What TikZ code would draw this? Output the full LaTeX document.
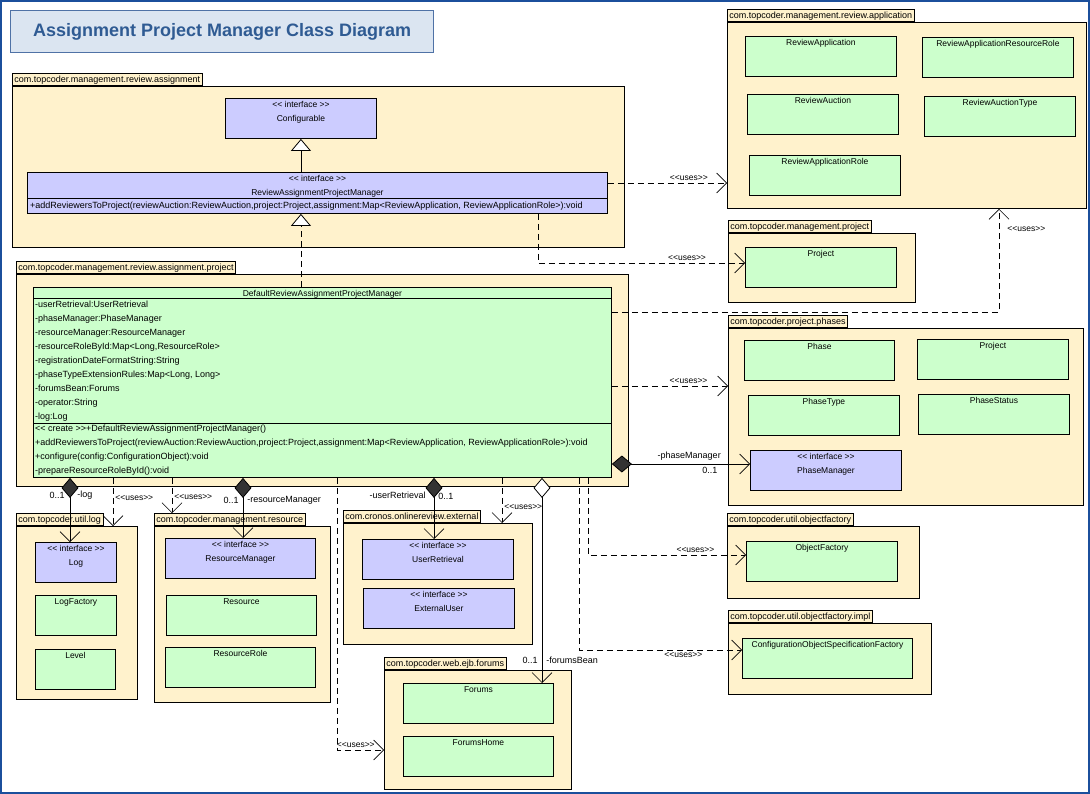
\documentclass[tikz,border=0pt]{standalone}
\usepackage{fontspec}
\setmainfont{Liberation Sans}
\usetikzlibrary{arrows.meta}

\definecolor{pkgfill}{HTML}{FFF2CC}
\definecolor{clsfill}{HTML}{CCFFCC}
\definecolor{ifcfill}{HTML}{CCCCFF}
\definecolor{titlefill}{HTML}{DBE5F1}
\definecolor{titleline}{HTML}{4F72A6}
\definecolor{titletext}{HTML}{2F5B93}
\definecolor{framecol}{HTML}{1B4F9C}
\definecolor{diamondcol}{HTML}{333333}

\newcommand{\stereo}[1]{<{}<#1>{}>}

\tikzset{
  pkg/.style={draw, fill=pkgfill, line width=0.9pt, anchor=north west, inner sep=0pt},
  pkgtab/.style={draw, fill=pkgfill, line width=0.9pt, anchor=south west, inner xsep=2pt, inner ysep=0pt,
    minimum height=12pt, text height=7pt, text depth=2pt, font=\fontsize{9}{10}\selectfont},
  cname/.style={anchor=north, inner sep=3.5pt, align=center, font=\fontsize{8.5}{13.5}\selectfont},
  cls/.style={draw, fill=clsfill, line width=0.9pt, anchor=north west, inner sep=0pt,
    minimum width=150pt, minimum height=40pt, label={[cname]north:#1}},
  ifc/.style={cls={\stereo{ interface }\\#1}, fill=ifcfill},
  member/.style={anchor=west, inner sep=0pt, text height=6.5pt, text depth=2pt, font=\fontsize{9}{10}\selectfont},
  lbl/.style={inner sep=2pt, font=\fontsize{9}{10}\selectfont},
  ulbl/.style={inner sep=2pt, font=\fontsize{8.5}{10}\selectfont},
  uses/.style={line width=0.8pt, dash pattern=on 6pt off 4pt,
    -{Straight Barb[length=10pt, width=20pt, line width=0.6pt]}},
  comp/.style={line width=0.8pt, {Diamond[length=20pt, width=17pt, fill=diamondcol]}-{Straight Barb[length=10pt, width=20pt, line width=0.6pt]}},
  aggr/.style={line width=0.8pt, {Diamond[open, fill=white, length=20pt, width=17pt]}-{Straight Barb[length=10pt, width=20pt, line width=0.6pt]}},
  gen/.style={line width=0.8pt, -{Triangle[open, fill=white, length=12pt, width=20pt]}}
}

\begin{document}
\begin{tikzpicture}[x=1pt, y=-1pt]
\useasboundingbox (0,0) rectangle (1090,794);

% Title
\node[draw=titleline, fill=titlefill, line width=1.2pt, anchor=north west, minimum width=423pt, minimum height=42pt,
  text=titletext, font=\fontsize{18}{20}\selectfont\bfseries] (title) at (10,10) {Assignment Project Manager Class Diagram};

% Packages
\node[pkg, minimum width=612pt, minimum height=161pt] (asgpkg) at (12,86) {};
\node[pkgtab] (asgtab) at (asgpkg.north west) {com.topcoder.management.review.assignment};
\node[pkg, minimum width=612pt, minimum height=212pt] (prjpkg) at (16,274) {};
\node[pkgtab] (prjtab) at (prjpkg.north west) {com.topcoder.management.review.assignment.project};
\node[pkg, minimum width=359pt, minimum height=186pt] (apppkg) at (727,22) {};
\node[pkgtab] (apptab) at (apppkg.north west) {com.topcoder.management.review.application};
\node[pkg, minimum width=187pt, minimum height=69pt] (mprjpkg) at (728,233) {};
\node[pkgtab] (mprjtab) at (mprjpkg.north west) {com.topcoder.management.project};
\node[pkg, minimum width=355pt, minimum height=177pt] (phspkg) at (728,328) {};
\node[pkgtab] (phstab) at (phspkg.north west) {com.topcoder.project.phases};
\node[pkg, minimum width=192pt, minimum height=72pt] (ofpkg) at (727,526) {};
\node[pkgtab] (oftab) at (ofpkg.north west) {com.topcoder.util.objectfactory};
\node[pkg, minimum width=203pt, minimum height=71pt] (ofipkg) at (728,623) {};
\node[pkgtab] (ofitab) at (ofipkg.north west) {com.topcoder.util.objectfactory.impl};
\node[pkg, minimum width=121pt, minimum height=173pt] (logpkg) at (16,526) {};
\node[pkgtab] (logtab) at (logpkg.north west) {com.topcoder.util.log};
\node[pkg, minimum width=176pt, minimum height=176pt] (respkg) at (154,526) {};
\node[pkgtab] (restab) at (respkg.north west) {com.topcoder.management.resource};
\node[pkg, minimum width=189pt, minimum height=121pt] (extpkg) at (343,523) {};
\node[pkgtab] (exttab) at (extpkg.north west) {com.cronos.onlinereview.external};
\node[pkg, minimum width=187pt, minimum height=119pt] (frmpkg) at (384,670) {};
\node[pkgtab] (frmtab) at (frmpkg.north west) {com.topcoder.web.ejb.forums};

% review.assignment
\node[ifc=Configurable, minimum width=151pt] (conf) at (225,98) {};
\node[ifc=ReviewAssignmentProjectManager, minimum width=580pt, minimum height=41pt] (rapm) at (27,172) {};
\draw[line width=0.9pt] ([yshift=-26pt]rapm.north west) -- ([yshift=-26pt]rapm.north east);
\node[member] (rapmop) at (30,206) {+addReviewersToProject(reviewAuction:ReviewAuction,project:Project,assignment:Map<ReviewApplication, ReviewApplicationRole>):void};

% review.assignment.project
\node[cls=DefaultReviewAssignmentProjectManager, minimum width=578pt, minimum height=190pt] (drapm) at (33,287) {};
\draw[line width=0.9pt] ([yshift=-11pt]drapm.north west) -- ([yshift=-11pt]drapm.north east);
\draw[line width=0.9pt] ([yshift=-136pt]drapm.north west) -- ([yshift=-136pt]drapm.north east);
\foreach \attr [count=\i] in {-userRetrieval:UserRetrieval, -phaseManager:PhaseManager,
    -resourceManager:ResourceManager, {-resourceRoleById:Map<Long,ResourceRole>},
    -registrationDateFormatString:String, {-phaseTypeExtensionRules:Map<Long, Long>},
    -forumsBean:Forums, -operator:String, -log:Log}
  \node[member] (attr\i) at (35,{291+14*\i}) {\attr};
\foreach \op [count=\i] in {{\stereo{ create }+DefaultReviewAssignmentProjectManager()},
    {+addReviewersToProject(reviewAuction:ReviewAuction,project:Project,assignment:Map<ReviewApplication, ReviewApplicationRole>):void},
    {+configure(config:ConfigurationObject):void}, {-prepareResourceRoleById():void}}
  \node[member] (op\i) at (35,{415+14*\i}) {\op};

% review.application
\node[cls=ReviewApplication, minimum width=151pt] (revapp) at (745,36) {};
\node[cls=ReviewApplicationResourceRole, minimum width=151pt] (revres) at (922,37) {};
\node[cls=ReviewAuction, minimum width=151pt] (revauc) at (747,94) {};
\node[cls=ReviewAuctionType, minimum width=151pt] (revauct) at (924,96) {};
\node[cls=ReviewApplicationRole, minimum width=151pt] (revrole) at (749,155) {};

% management.project
\node[cls=Project, minimum width=151pt] (mprj) at (745,247) {};

% project.phases
\node[cls=Phase] (phase) at (744,340) {};
\node[cls=Project, minimum width=151pt] (pprj) at (917,339) {};
\node[cls=PhaseType, minimum width=151pt] (ptype) at (748,395) {};
\node[cls=PhaseStatus, minimum width=151pt] (pstat) at (918,394) {};
\node[ifc=PhaseManager, minimum width=151pt] (pm) at (750,450) {};

% objectfactory
\node[cls=ObjectFactory, minimum width=151pt] (objf) at (746,541) {};
\node[cls=ConfigurationObjectSpecificationFactory, minimum width=170pt] (cosf) at (742,638) {};

% log
\node[ifc=Log, minimum width=81pt] (log) at (35,542) {};
\node[cls=LogFactory, minimum width=81pt] (logf) at (35,595) {};
\node[cls=Level, minimum width=80pt] (level) at (35,649) {};

% resource
\node[ifc=ResourceManager] (resm) at (165,538) {};
\node[cls=Resource] (res) at (166,595) {};
\node[cls=ResourceRole] (resrole) at (165,647) {};

% external
\node[ifc=UserRetrieval, minimum width=151pt] (usr) at (362,539) {};
\node[ifc=ExternalUser, minimum width=151pt] (extu) at (363,588) {};

% forums
\node[cls=Forums] (frm) at (403,683) {};
\node[cls=ForumsHome] (frmh) at (403,736) {};

% Generalization
\draw[gen] (conf.south |- rapm.north) -- (conf.south);
\draw[gen, dash pattern=on 6pt off 4pt] (conf.south |- drapm.north) -- (conf.south |- rapm.south);

% Dependencies
\draw[uses] (rapm.east |- 0,183) -- (apppkg.west |- 0,183) node[pos=0.68, above, ulbl] (u1) {\stereo{uses}};
\draw[uses] (rapm.south -| 538,0) |- (mprj.west |- 0,263) node[pos=0.86, above, ulbl] (u2) {\stereo{uses}};
\draw[uses] (drapm.east |- 0,312) -| (apppkg.south -| 999,0) node[pos=0.9, right=6pt, ulbl] (u3) {\stereo{uses}};
\draw[uses] (drapm.east |- 0,386) -- (phspkg.west |- 0,386) node[pos=0.66, above, ulbl] (u4) {\stereo{uses}};
\draw[uses] (drapm.south -| 113,0) -- (logpkg.north -| 113,0) node[pos=0.42, right, ulbl] (u5) {\stereo{uses}};
\draw[uses] (drapm.south -| 172,0) -- (restab.north -| 172,0) node[pos=0.55, right, ulbl] (u6) {\stereo{uses}};
\draw[uses] (drapm.south -| 337,0) |- (frmpkg.west |- 0,750) node[pos=0.7, above, ulbl] (u7) {\stereo{uses}};
\draw[uses] (drapm.south -| 502,0) -- (extpkg.north -| 502,0) node[pos=0.65, right, ulbl] (u8) {\stereo{uses}};
\draw[uses] (drapm.south -| 588,0) |- (objf.west |- 0,555) node[pos=0.84, above, ulbl] (u9) {\stereo{uses}};
\draw[uses] (drapm.south -| 579,0) |- (cosf.west |- 0,650) node[pos=0.82, below, ulbl] (u10) {\stereo{uses}};

% Associations
\draw[comp] (drapm.south -| 70,0) -- (log.north -| 70,0)
  node[pos=0.27, left=3pt, lbl] (loglm) {0..1} node[pos=0.27, right=5pt, lbl] (logrl) {-log};
\draw[comp] (drapm.south -| 243,0) -- (resm.north -| 243,0)
  node[pos=0.37, left=2pt, lbl] (resm1) {0..1} node[pos=0.37, right=2pt, lbl] (resrl) {-resourceManager};
\draw[comp] (drapm.south -| 434,0) -- (usr.north -| 434,0)
  node[pos=0.29, left=6pt, lbl] (usrrl) {-userRetrieval} node[pos=0.31, right=2pt, lbl] (usrm) {0..1};
\draw[aggr] (drapm.south -| 542,0) -- (frm.north -| 542,0)
  node[pos=0.89, left=2pt, lbl] (frmm) {0..1} node[pos=0.89, right=2pt, lbl] (frmrl) {-forumsBean};
\draw[comp] (drapm.east |- 0,464) -- (pm.west |- 0,464)
  node[pos=0.56, above=1pt, lbl] (pmrl) {-phaseManager} node[pos=0.71, below=1pt, lbl] (pmm) {0..1};

% Frame
\draw[framecol, line width=2pt] (1,1) rectangle (1089,793);
\end{tikzpicture}
\end{document}
